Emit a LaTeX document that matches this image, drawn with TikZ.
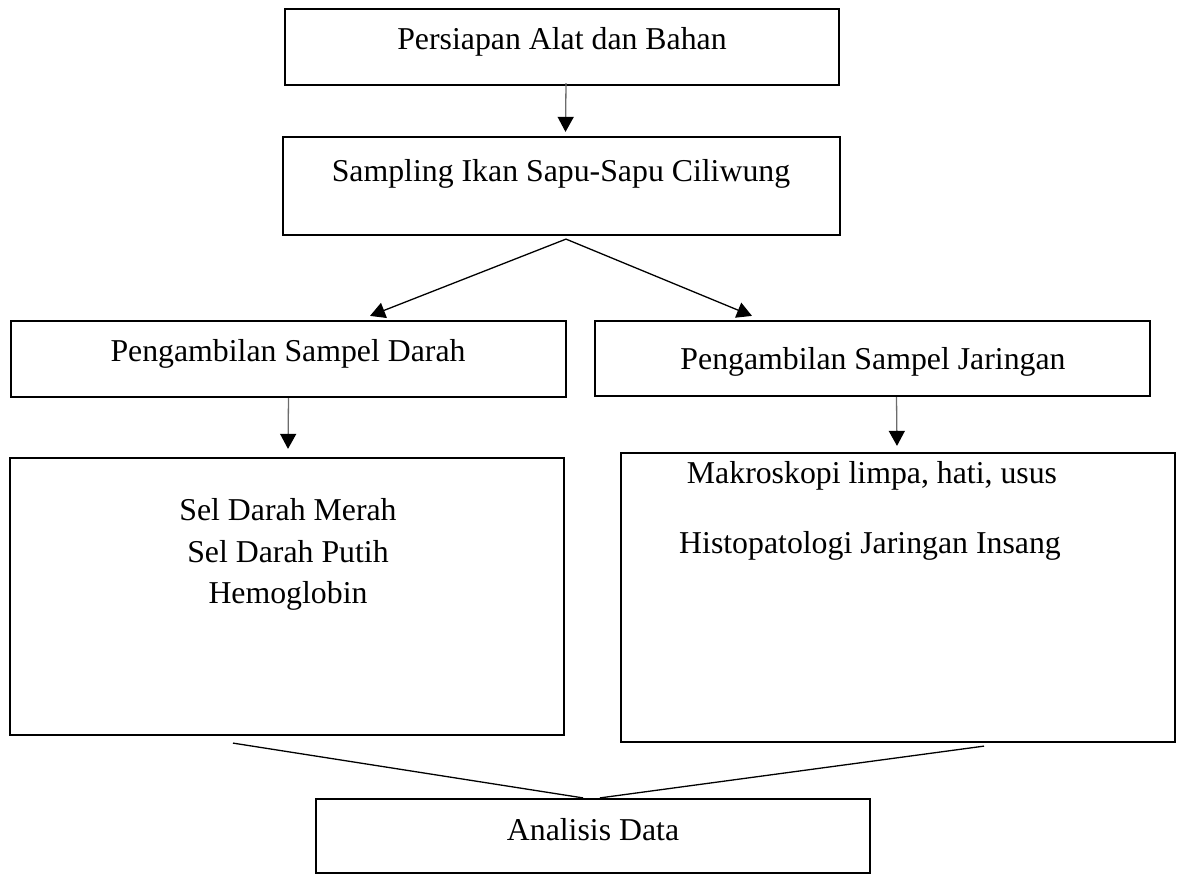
\documentclass[tikz,border=0pt]{standalone}
\usepackage{fontspec}
\setmainfont{Liberation Serif}
\usetikzlibrary{arrows.meta}
\begin{document}
\begin{tikzpicture}[x=1pt,y=-1pt,
  box/.style={draw=black, line width=2.2pt, rectangle, inner sep=0pt},
  lbl/.style={anchor=base, inner sep=0pt, font=\fontsize{31.8}{41.5}\selectfont},
  garrow/.style={draw=gray!85!black, line width=1.3pt, -{Triangle[width=16pt,length=15pt,color=black,fill=black]}},
  barrow/.style={draw=black, line width=1.3pt, -{Triangle[width=16pt,length=15pt,color=black,fill=black]}},
  link/.style={draw=black, line width=1.3pt}]
\useasboundingbox (0,0) rectangle (1178,874);
% boxes
\node[box, minimum width=554pt, minimum height=76pt] (b1) at (562,47) {};
\node[box, minimum width=557pt, minimum height=98pt] (b2) at (561.5,186) {};
\node[box, minimum width=555pt, minimum height=76pt] (b3) at (288.5,359) {};
\node[box, minimum width=555pt, minimum height=75pt] (b4) at (872.5,358.5) {};
\node[box, minimum width=554pt, minimum height=277pt] (b5) at (287,596.5) {};
\node[box, minimum width=554pt, minimum height=289pt] (b6) at (898,597.5) {};
\node[box, minimum width=554pt, minimum height=74pt] (b7) at (593,836) {};
% texts
\node[lbl] (t1) at (562,50) {Persiapan Alat dan Bahan};
\node[lbl] (t2) at (561,182) {Sampling Ikan Sapu-Sapu Ciliwung};
\node[lbl] (t3) at (288,362) {Pengambilan Sampel Darah};
\node[lbl] (t4) at (873,370) {Pengambilan Sampel Jaringan};
\node[lbl] (t5a) at (288,520) {Sel Darah Merah};
\node[lbl] (t5b) at (288,562) {Sel Darah Putih};
\node[lbl] (t5c) at (288,603) {Hemoglobin};
\node[lbl] (t6a) at (872,483) {Makroskopi limpa, hati, usus};
\node[lbl] (t6b) at (870,553) {Histopatologi Jaringan Insang};
\node[lbl] (t7) at (593,840) {Analisis Data};
% connectors
\draw[garrow] ([xshift=4pt,yshift=3pt]b1.south) -- ([xshift=4pt,yshift=4pt]b2.north);
\draw[barrow] ([xshift=4.5pt,yshift=-3pt]b2.south) -- ([xshift=81.5pt,yshift=4pt]b3.north);
\draw[barrow] ([xshift=4.5pt,yshift=-3pt]b2.south) -- ([xshift=-120.5pt,yshift=4pt]b4.north);
\draw[garrow] ([xshift=0pt]b3.south) -- ([xshift=1pt,yshift=8pt]b5.north);
\draw[garrow] ([xshift=24pt]b4.south) -- ([xshift=-1pt,yshift=6pt]b6.north);
\draw[link] ([xshift=-54pt,yshift=-7pt]b5.south) -- ([xshift=-10pt]b7.north);
\draw[link] ([xshift=86pt,yshift=-3pt]b6.south) -- ([xshift=7pt]b7.north);
\end{tikzpicture}
\end{document}
